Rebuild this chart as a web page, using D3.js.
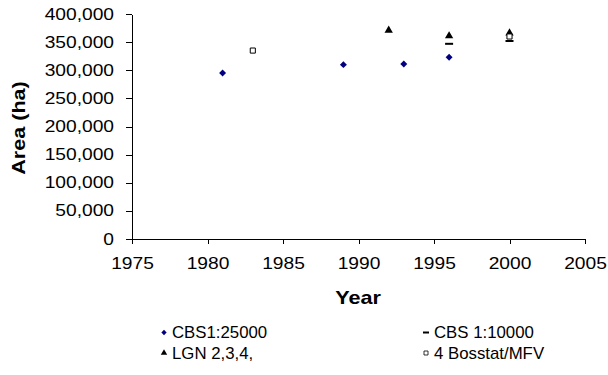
<!DOCTYPE html>
<html>
<head>
<meta charset="utf-8">
<script src="https://cdn.jsdelivr.net/npm/d3@7"></script>
<style>
  body { margin: 0; background: #fff; }
  svg { font-family: "Liberation Sans", Arial, sans-serif; }
  .axis path, .axis line { stroke: #000; shape-rendering: crispEdges; }
  .axis text { font-size: 16px; fill: #000; }
  .title { font-size: 18px; font-weight: bold; }
  .legend text { font-size: 16px; }
</style>
</head>
<body>
<svg width="608" height="375"></svg>
<script>
// data
var years25 = [1981, 1989, 1993, 1996];
var area25 = [295000, 310000, 311000, 323000];
var yearsLgn = [1992, 1996, 2000];
var areaLgn = [371000, 361000, 366000];
var years10 = [1996, 2000];
var area10 = [347000, 352000];
var yearsBos = [1983, 2000];
var areaBos = [335000, 360000];
var xTicks = [1975, 1980, 1985, 1990, 1995, 2000, 2005];
var yTicks = [0, 50000, 100000, 150000, 200000, 250000, 300000, 350000, 400000];

var SX = 1.2;   // axis text in the reference is drawn wide
var LSX = 1.05; // legend text a bit less so

var svg = d3.select('svg');

var xScale = d3.scaleLinear().domain([1975, 2005]).range([132, 585]);
var yScale = d3.scaleLinear().domain([0, 400000]).range([239, 14]);

// y axis
var yAxis = svg.append('g').attr('class', 'y axis')
    .attr('transform', 'translate(132,0)')
    .call(d3.axisLeft(yScale).tickValues(yTicks).tickFormat(d3.format(',')).tickSize(6).tickSizeOuter(0));
yAxis.selectAll('text')
    .attr('x', -18 / SX)
    .attr('transform', 'scale(' + SX + ',1)');

// x axis
var xAxis = svg.append('g').attr('class', 'x axis')
    .attr('transform', 'translate(0,239)')
    .call(d3.axisBottom(xScale).tickValues(xTicks).tickFormat(d3.format('d')).tickSize(5).tickPadding(14).tickSizeOuter(0));
xAxis.selectAll('text')
    .attr('transform', 'scale(' + SX + ',1)')
    .attr('x', function() { return 0; });

// axis titles
svg.append('text')
    .attr('class', 'title')
    .attr('text-anchor', 'middle')
    .attr('transform', 'translate(25,128) rotate(-90) scale(' + SX + ',1)')
    .text('Area (ha)');

svg.append('text')
    .attr('class', 'title')
    .attr('text-anchor', 'middle')
    .attr('transform', 'translate(358,304) scale(' + SX + ',1)')
    .text('Year');

// markers
var diamond = d3.symbol().type(d3.symbolSquare).size(24);
var triangle = d3.symbol().type(d3.symbolTriangle).size(30);
var square = d3.symbol().type(d3.symbolSquare).size(26);

function drawDiamonds(g, xs, ys) {
    g.selectAll('path').data(xs).enter().append('path')
        .attr('d', diamond)
        .attr('fill', '#000080')
        .attr('transform', function(d, i) {
            return 'translate(' + xScale(d) + ',' + yScale(ys[i]) + ') rotate(45)';
        });
}
function drawTriangles(g, xs, ys) {
    g.selectAll('path').data(xs).enter().append('path')
        .attr('d', triangle)
        .attr('fill', '#000')
        .attr('transform', function(d, i) {
            return 'translate(' + xScale(d) + ',' + yScale(ys[i]) + ')';
        });
}
function drawDashes(g, xs, ys) {
    g.selectAll('rect').data(xs).enter().append('rect')
        .attr('x', function(d) { return xScale(d) - 4; })
        .attr('y', function(d, i) { return yScale(ys[i]) - 1; })
        .attr('width', 8)
        .attr('height', 2)
        .attr('fill', '#000');
}
function drawSquares(g, xs, ys) {
    g.selectAll('path').data(xs).enter().append('path')
        .attr('d', square)
        .attr('fill', '#fff')
        .attr('stroke', '#000')
        .attr('stroke-width', 1)
        .attr('transform', function(d, i) {
            return 'translate(' + xScale(d) + ',' + yScale(ys[i]) + ')';
        });
}

drawDiamonds(svg.append('g'), years25, area25);
drawTriangles(svg.append('g'), yearsLgn, areaLgn);
drawDashes(svg.append('g'), years10, area10);
drawSquares(svg.append('g'), yearsBos, areaBos);

// legend
var legend = svg.append('g').attr('class', 'legend');
var items = [
    { name: 'CBS1:25000', x: 164, y: 332.5, kind: 'diamond' },
    { name: 'CBS 1:10000', x: 426, y: 332.5, kind: 'dash' },
    { name: 'LGN 2,3,4,', x: 164, y: 353, kind: 'triangle' },
    { name: '4 Bosstat/MFV', x: 426, y: 353, kind: 'square' }
];
items.forEach(function(it) {
    var g = legend.append('g').attr('transform', 'translate(' + it.x + ',' + it.y + ')');
    if (it.kind === 'diamond') {
        g.append('path').attr('d', d3.symbol().type(d3.symbolSquare).size(14))
            .attr('fill', '#000080').attr('transform', 'rotate(45)');
    } else if (it.kind === 'triangle') {
        g.append('path').attr('d', d3.symbol().type(d3.symbolTriangle).size(18)).attr('fill', '#000');
    } else if (it.kind === 'dash') {
        g.append('rect').attr('x', -3).attr('y', -1).attr('width', 6).attr('height', 2).attr('fill', '#000');
    } else {
        g.append('path').attr('d', d3.symbol().type(d3.symbolSquare).size(16))
            .attr('fill', '#fff').attr('stroke', '#000').attr('stroke-width', 0.8);
    }
    g.append('text')
        .attr('transform', 'translate(8,5.5) scale(' + LSX + ',1)')
        .text(it.name);
});
</script>
</body>
</html>
